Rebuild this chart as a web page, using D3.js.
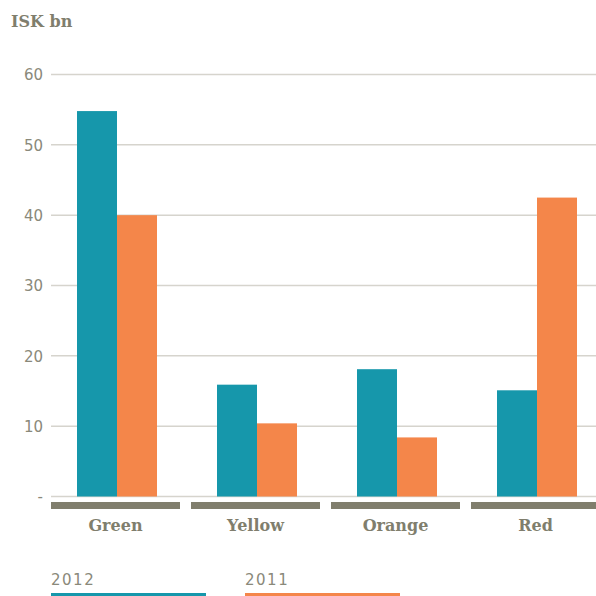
<!DOCTYPE html>
<html>
<head>
<meta charset="utf-8">
<script src="https://cdn.jsdelivr.net/npm/d3@7"></script>
<style>
  html, body { margin: 0; padding: 0; background: #fff; }
  svg { display: block; }
</style>
</head>
<body>
<svg id="chart" width="596" height="596"></svg>
<script>
const categories = ["Green", "Yellow", "Orange", "Red"];
const series = ["2012", "2011"];
const values2012 = [54.8, 15.9, 18.1, 15.1];
const values2011 = [40.0, 10.4, 8.4, 42.5];
const yTicks = [0, 10, 20, 30, 40, 50, 60];
const yTickLabels = ["-", "10", "20", "30", "40", "50", "60"];
const unitLabel = "ISK bn";

const colors = { "2012": "#1697ab", "2011": "#f4864a" };
const grey = "#807e6d";
const gridColor = "#d6d4cd";

const svg = d3.select("#chart");
const W = 596;

const y = d3.scaleLinear().domain([0, 60]).range([496.5, 74.5]);
// four category bands of 129px with 11px gaps, starting at x=51
const x = d3.scaleBand().domain(categories).range([51, 600]).paddingInner(11 / 140).paddingOuter(0);
const xSeries = d3.scaleBand().domain(series).range([26, 106]).padding(0);

// Unit label
svg.append("text")
  .attr("x", 11).attr("y", 27)
  .attr("font-family", "'DejaVu Serif', serif")
  .attr("font-weight", "bold")
  .attr("font-size", 16)
  .attr("fill", grey)
  .text(unitLabel);

// Tick labels
const yAxis = d3.axisLeft(y).tickValues(yTicks).tickSize(0).tickPadding(0)
  .tickFormat((d, i) => yTickLabels[i]);
const ga = svg.append("g").attr("transform", "translate(43,0)").call(yAxis);
ga.select(".domain").remove();
ga.selectAll("text")
  .attr("font-family", "'DejaVu Sans', sans-serif")
  .attr("font-size", 15)
  .attr("fill", "#8a897a")
  .attr("dy", "0.35em");

// Grid lines
svg.append("g").selectAll("line")
  .data(yTicks)
  .join("line")
  .attr("x1", 51).attr("x2", W)
  .attr("y1", d => y(d)).attr("y2", d => y(d))
  .attr("stroke", gridColor)
  .attr("stroke-width", 1.5);

// Bars
const groups = svg.append("g").selectAll("g")
  .data(categories)
  .join("g")
  .attr("transform", d => `translate(${x(d)},0)`);

groups.selectAll("rect")
  .data((c, i) => series.map(s => ({ s, v: s === "2012" ? values2012[i] : values2011[i] })))
  .join("rect")
  .attr("x", d => xSeries(d.s))
  .attr("width", xSeries.bandwidth())
  .attr("y", d => y(d.v))
  .attr("height", d => y(0) - y(d.v))
  .attr("fill", d => colors[d.s]);

// Category bands and labels
svg.append("g").selectAll("rect")
  .data(categories)
  .join("rect")
  .attr("x", d => x(d))
  .attr("width", x.bandwidth())
  .attr("y", 502)
  .attr("height", 7)
  .attr("fill", grey);

svg.append("g").selectAll("text")
  .data(categories)
  .join("text")
  .attr("x", d => x(d) + x.bandwidth() / 2)
  .attr("y", 531)
  .attr("text-anchor", "middle")
  .attr("font-family", "'DejaVu Serif', serif")
  .attr("font-weight", "bold")
  .attr("font-size", 16)
  .attr("fill", grey)
  .text(d => d);

// Legend
const legendX = { "2012": 51, "2011": 245 };
const leg = svg.append("g").selectAll("g")
  .data(series)
  .join("g")
  .attr("transform", d => `translate(${legendX[d]},0)`);
leg.append("text")
  .attr("x", 0).attr("y", 585)
  .attr("font-family", "'DejaVu Sans', sans-serif")
  .attr("font-size", 15)
  .attr("letter-spacing", 1.5)
  .attr("fill", "#8a897a")
  .text(d => d);
leg.append("rect")
  .attr("x", 0).attr("y", 593)
  .attr("width", 155).attr("height", 3)
  .attr("fill", d => colors[d]);
</script>
</body>
</html>
